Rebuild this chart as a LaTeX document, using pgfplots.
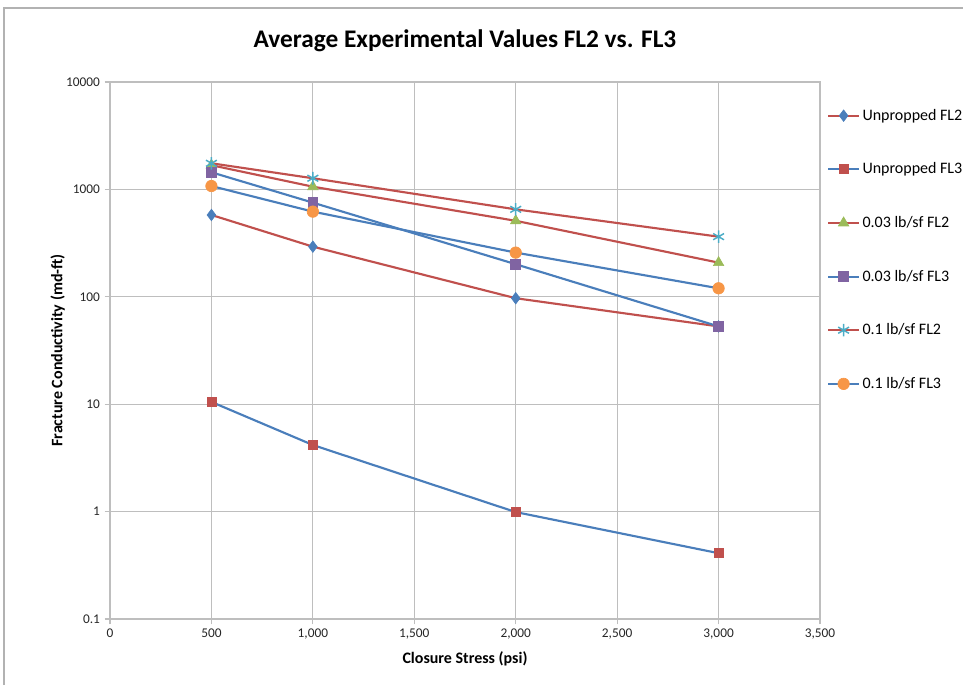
\documentclass[border=0pt]{standalone}
\usepackage{pgfplots}
\pgfplotsset{compat=1.18}
\usepackage{fontspec}
\setmainfont{Carlito}
\definecolor{xred}{RGB}{192,80,77}
\definecolor{xblue}{RGB}{74,126,187}
\definecolor{xgreen}{RGB}{155,187,89}
\definecolor{xpurple}{RGB}{128,100,162}
\definecolor{xcyan}{RGB}{75,172,198}
\definecolor{xorange}{RGB}{247,150,70}
\definecolor{gridc}{RGB}{190,190,190}
\begin{document}
\begin{tikzpicture}
\useasboundingbox (-82.5pt,-49.5pt) rectangle (639.75pt,464.25pt);
\draw[gray!60, line width=1pt] (-79.5pt,-49.5pt) -- (-79.5pt,458.25pt) -- (639.75pt,458.25pt);
\begin{axis}[
  at={(0pt,0pt)}, anchor=south west,
  scale only axis, width=532.5pt, height=402.75pt,
  ymode=log, xmin=0, xmax=3500, ymin=0.1, ymax=10000,
  xtick={0,500,1000,1500,2000,2500,3000,3500},
  xticklabels={0,500,{1,000},{1,500},{2,000},{2,500},{3,000},{3,500}},
  ytick={0.1,1,10,100,1000,10000},
  yticklabels={0.1,1,10,100,1000,10000},
  yminorticks=false, xminorticks=false,
  xtick pos=left, ytick pos=left,
  grid=major,
  major grid style={gridc, line width=0.8pt},
  axis line style={gridc, line width=0.8pt},
  tick style={gridc, line width=0.8pt},
  tick align=outside, major tick length=4pt,
  tick label style={font=\fontsize{10pt}{12pt}\selectfont, text=black!85},
  xlabel={\bfseries Closure Stress (psi)},
  ylabel={\bfseries Fracture Conductivity (md-ft)},
  xlabel style={font=\fontsize{12pt}{14pt}\selectfont, yshift=-2pt},
  ylabel style={font=\fontsize{12pt}{14pt}\selectfont, yshift=-6pt},
  title={\bfseries Average Experimental Values FL2 vs. FL3},
  title style={font=\fontsize{19pt}{22pt}\selectfont, yshift=13pt},
  legend style={at={(1.01,0.955)}, anchor=north west, draw=none, fill=none,
    font=\fontsize{12pt}{14pt}\selectfont, row sep=26.4pt, inner sep=0pt},
  legend cell align=left,
  legend image code/.code={\draw[mark repeat=2,mark phase=2] plot coordinates {(0cm,0cm) (0.4cm,0cm) (0.8cm,0cm)};},
  every axis plot/.append style={line width=1.6pt},
]
\addplot[xred, mark=diamond*, mark size=4.3pt, mark options={fill=xblue, draw=xblue, line width=0.5pt}]
  coordinates {(500,578) (1000,293) (2000,97) (3000,53)};
\addlegendentry{Unpropped FL2}
\addplot[xblue, mark=square*, mark size=3.4pt, mark options={fill=xred, draw=xred, line width=0.5pt}]
  coordinates {(500,10.5) (1000,4.17) (2000,0.99) (3000,0.41)};
\addlegendentry{Unpropped FL3}
\addplot[xred, mark=triangle*, mark size=4.5pt, mark options={fill=xgreen, draw=xgreen, line width=0.5pt}]
  coordinates {(500,1680) (1000,1060) (2000,510) (3000,208)};
\addlegendentry{0.03 lb/sf FL2}
\addplot[xblue, mark=square*, mark size=3.7pt, mark options={fill=xpurple, draw=xpurple, line width=0.5pt}]
  coordinates {(500,1443) (1000,753) (2000,201) (3000,53)};
\addlegendentry{0.03 lb/sf FL3}
\addplot[xred, mark=asterisk, mark size=4.7pt, mark options={draw=xcyan, line width=1.1pt}]
  coordinates {(500,1750) (1000,1270) (2000,652) (3000,363)};
\addlegendentry{0.1 lb/sf FL2}
\addplot[xblue, mark=*, mark size=4.3pt, mark options={fill=xorange, draw=xorange, line width=0.5pt}]
  coordinates {(500,1075) (1000,621) (2000,258) (3000,120)};
\addlegendentry{0.1 lb/sf FL3}
\end{axis}
\end{tikzpicture}
\end{document}
